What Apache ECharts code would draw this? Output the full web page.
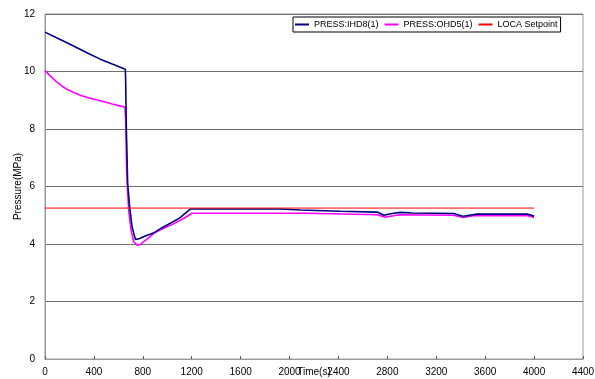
<!DOCTYPE html>
<html>
<head>
<meta charset="utf-8">
<script src="https://cdn.jsdelivr.net/npm/echarts@6/dist/echarts.min.js"></script>
<style>
  html, body { margin: 0; padding: 0; background: #fff; }
  #chart { width: 595px; height: 379px; }
</style>
</head>
<body>
<div id="chart"></div>
<script>
// Pressure traces (MPa) against time (s)
const ihd8Time  = [0, 90, 180, 270, 360, 452, 550, 657, 660, 665, 676, 692, 712, 739, 770, 820, 886, 950, 1025, 1100, 1190, 1500, 1925, 1930, 2090, 2100, 2416, 2420, 2717, 2771, 2840, 2907, 3000, 3342, 3423, 3470, 3535, 3944, 4000];
const ihd8Press = [11.37, 11.18, 11.0, 10.81, 10.62, 10.43, 10.26, 10.08, 9.6, 8.08, 6.11, 5.30, 4.6, 4.16, 4.18, 4.28, 4.38, 4.55, 4.72, 4.9, 5.22, 5.22, 5.22, 5.18, 5.18, 5.14, 5.14, 5.11, 5.11, 5.0, 5.06, 5.10, 5.08, 5.06, 4.96, 5.0, 5.04, 5.04, 4.97];

const ohd5Time  = [0, 30, 60, 90, 120, 150, 180, 240, 300, 370, 452, 550, 654, 660, 668, 684, 704, 725, 753, 780, 807, 850, 889, 950, 1050, 1130, 1203, 1600, 2150, 2160, 2720, 2780, 2850, 2900, 3340, 3420, 3480, 3520, 3950, 4000];
const ohd5Press = [10.04, 9.9, 9.78, 9.66, 9.56, 9.46, 9.38, 9.26, 9.16, 9.07, 8.98, 8.87, 8.76, 8.3, 6.5, 5.18, 4.48, 4.08, 3.96, 3.98, 4.08, 4.22, 4.37, 4.5, 4.7, 4.88, 5.07, 5.07, 5.07, 5.02, 5.02, 4.93, 4.98, 5.02, 5.0, 4.92, 4.97, 4.99, 4.98, 4.92];

const setpointTime  = [0, 4000];
const setpointPress = [5.25, 5.25];

const seriesNames = ['PRESS:IHD8(1)', 'PRESS:OHD5(1)', 'LOCA Setpoint'];
const seriesColors = ['#000080', '#ff00ff', '#ff0000'];

const pairs = (xs, ys) => xs.map((x, i) => [x, ys[i]]);

const font = 'Liberation Sans, Arial, sans-serif';

const chart = echarts.init(document.getElementById('chart'), null, { renderer: 'canvas' });
chart.setOption({
  animation: false,
  backgroundColor: '#ffffff',
  grid: {
    left: 45, right: 12, top: 14, bottom: 20,
    outerBoundsMode: 'none', containLabel: false,
    show: true, borderColor: '#999999', borderWidth: 1, backgroundColor: 'transparent'
  },
  legend: {
    left: 293, top: 17,
    orient: 'horizontal',
    data: seriesNames.map(n => ({ name: n, icon: 'rect' })),
    itemWidth: 14, itemHeight: 2, itemGap: 6,
    padding: [3, 3, 3, 2],
    borderColor: '#000000', borderWidth: 1, backgroundColor: '#ffffff',
    textStyle: { fontFamily: font, fontSize: 9, color: '#000' }
  },
  xAxis: {
    type: 'value', min: 0, max: 4400, interval: 400,
    name: 'Time(s)', nameLocation: 'middle', nameGap: 8, nameMoveOverlap: false,
    nameTextStyle: { fontFamily: font, fontSize: 10, color: '#000', verticalAlign: 'top' },
    axisLine: { show: true, lineStyle: { color: '#999999', width: 1 } },
    axisTick: { show: true, inside: true, length: 3, lineStyle: { color: '#555' } },
    axisLabel: { fontFamily: font, fontSize: 10, color: '#000', margin: 8, formatter: v => String(v) },
    splitLine: { show: false }
  },
  yAxis: {
    type: 'value', min: 0, max: 12, interval: 2,
    name: 'Pressure(MPa)', nameLocation: 'middle', nameGap: 22, nameRotate: 90, nameMoveOverlap: false,
    nameTextStyle: { fontFamily: font, fontSize: 10, color: '#000' },
    axisLine: { show: true, lineStyle: { color: '#999999', width: 1 } },
    axisTick: { show: false },
    axisLabel: { fontFamily: font, fontSize: 10, color: '#000', margin: 10, formatter: v => String(v) },
    splitLine: { show: true, lineStyle: { color: '#707070', width: 1 } }
  },
  series: [
    {
      name: seriesNames[0], type: 'line', showSymbol: false, symbol: 'none',
      data: pairs(ihd8Time, ihd8Press),
      itemStyle: { color: seriesColors[0] },
      lineStyle: { color: seriesColors[0], width: 1.6 }, z: 3
    },
    {
      name: seriesNames[1], type: 'line', showSymbol: false, symbol: 'none',
      data: pairs(ohd5Time, ohd5Press),
      itemStyle: { color: seriesColors[1] },
      lineStyle: { color: seriesColors[1], width: 1.6 }, z: 2
    },
    {
      name: seriesNames[2], type: 'line', showSymbol: false, symbol: 'none',
      data: pairs(setpointTime, setpointPress),
      itemStyle: { color: seriesColors[2] },
      lineStyle: { color: seriesColors[2], width: 1 }, z: 4
    }
  ]
});
</script>
</body>
</html>
